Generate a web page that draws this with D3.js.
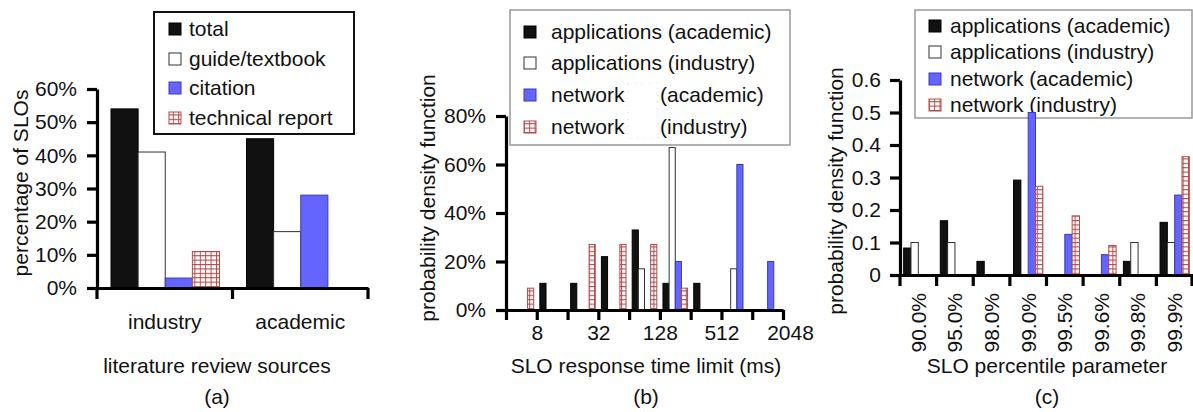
<!doctype html>
<html>
  <head>
    <title>SLO survey</title>
    <style>
      body { margin: 0; background: #fff; }
      svg text { font-family: 'Liberation Sans', Arial, sans-serif; fill: #111; }
    </style>
  </head>
  <body>
    <svg width='1193' height='412'></svg>

  <script src='https://cdnjs.cloudflare.com/ajax/libs/d3/7.8.5/d3.min.js'></script>
  <script>
// (a) literature review sources
var sourcesA = ['industry', 'academic'];
var seriesA = ['total', 'guide/textbook', 'citation', 'technical report'];
var totalA = [0.54, 0.45];
var guideA = [0.41, 0.17];
var citationA = [0.03, 0.28];
var techReportA = [0.11, 0];
var ticksA = [0, 0.1, 0.2, 0.3, 0.4, 0.5, 0.6];

// (b) response time limit, bins start at these powers of two
var binsB = [4, 8, 16, 32, 64, 128, 256, 512, 1024];
var tickValuesB = [4, 8, 16, 32, 64, 128, 256, 512, 1024, 2048];
var tickLabelsB = [8, 32, 128, 512, 2048];
var seriesB = ['applications (academic)', 'applications (industry)', 'network (academic)', 'network (industry)'];
var appAcadB = [0, 0.11, 0.11, 0.22, 0.33, 0.11, 0.11, 0, 0];
var appIndB = [0, 0, 0, 0, 0.17, 0.67, 0, 0.17, 0];
var netAcadB = [0, 0, 0, 0, 0, 0.20, 0, 0.60, 0.20];
var netIndB = [0.09, 0, 0.27, 0.27, 0.27, 0.09, 0, 0, 0];
var ticksB = [0, 0.2, 0.4, 0.6, 0.8];

// (c) percentile parameter
var percentilesC = ['90.0%', '95.0%', '98.0%', '99.0%', '99.5%', '99.6%', '99.8%', '99.9%'];
var seriesC = ['applications (academic)', 'applications (industry)', 'network (academic)', 'network (industry)'];
var appAcadC = [0.083, 0.167, 0.042, 0.292, 0, 0, 0.042, 0.162];
var appIndC = [0.1, 0.1, 0, 0, 0, 0, 0.1, 0.1];
var netAcadC = [0, 0, 0, 0.5, 0.125, 0.0625, 0, 0.246];
var netIndC = [0, 0, 0, 0.273, 0.182, 0.091, 0, 0.364];
var ticksC = [0, 0.1, 0.2, 0.3, 0.4, 0.5, 0.6];

var svg = d3.select('svg');
var FS = 21;

// grid pattern for the "industry"/"technical report" series
var defs = svg.append('defs');
var pat = defs.append('pattern').attr('id', 'grid')
  .attr('patternUnits', 'userSpaceOnUse').attr('width', 5.4).attr('height', 4.4);
pat.append('rect').attr('width', 5.4).attr('height', 4.4).attr('fill', '#fff');
pat.append('path').attr('d', 'M0,0.5H5.4M0.5,0V4.4')
  .attr('stroke', '#b34a4a').attr('stroke-width', 1).attr('fill', 'none');

var styles = [
  {fill: '#111', stroke: '#000'},
  {fill: '#fff', stroke: '#333'},
  {fill: '#6464ff', stroke: '#3a3ab8'},
  {fill: 'url(#grid)', stroke: '#b34a4a'}
];

function styleAxis(g) {
  g.select('.domain').attr('stroke', '#000').attr('stroke-width', 3.2);
  g.selectAll('.tick line').attr('stroke', '#000').attr('stroke-width', 3.2);
  g.selectAll('.tick text').attr('font-size', FS).attr('fill', '#111')
    .attr('font-family', "'Liberation Sans', Arial, sans-serif");
}

function drawBars(g, cats, x, sub, y, values) {
  values.forEach(function(vals, s) {
    g.selectAll(null).data(vals).enter().append('rect')
      .attr('x', function(d, i) { return x(cats[i]) + sub(s); })
      .attr('y', function(d) { return y(d); })
      .attr('width', sub.bandwidth())
      .attr('height', function(d) { return y(0) - y(d); })
      .attr('fill', styles[s].fill)
      .attr('stroke', styles[s].stroke)
      .attr('stroke-width', 1)
      .style('display', function(d) { return d > 0 ? null : 'none'; });
  });
}

function drawLegend(g, labels, box, sw, tx, rows, gapX, border) {
  g.append('rect').attr('x', box[0]).attr('y', box[1])
    .attr('width', box[2] - box[0]).attr('height', box[3] - box[1])
    .attr('fill', '#fff').attr('stroke', border.color).attr('stroke-width', border.width);
  labels.forEach(function(l, i) {
    g.append('rect').attr('x', sw).attr('y', rows[i] - 6).attr('width', 12).attr('height', 12)
      .attr('fill', styles[i].fill).attr('stroke', styles[i].stroke).attr('stroke-width', 1);
    var t = g.append('text').attr('x', tx).attr('y', rows[i]).attr('dy', '0.35em')
      .attr('font-size', FS);
    if (gapX && l.indexOf('network') === 0) {
      var parts = l.split(' ');
      t.text(parts[0]);
      t.append('tspan').attr('x', gapX).text(parts[1]);
    } else {
      t.text(l);
    }
  });
}

function yTitle(x, y, label) {
  svg.append('text').attr('transform', 'translate(' + x + ',' + y + ') rotate(-90)')
    .attr('text-anchor', 'middle').attr('font-size', FS).text(label);
}

function caption(x, label, sub) {
  svg.append('text').attr('x', x).attr('y', 373).attr('text-anchor', 'middle')
    .attr('font-size', FS).text(label);
  svg.append('text').attr('x', x).attr('y', 404).attr('text-anchor', 'middle')
    .attr('font-size', FS).text(sub);
}

// ---------- (a) ----------
var gA = svg.append('g');
var yA = d3.scaleLinear().domain([0, 0.6]).range([288, 89]);
var xA = d3.scaleBand().domain(sourcesA).range([97, 368]);
var subA = d3.scaleBand().domain(d3.range(4)).range([14, xA.bandwidth() - 13]);

drawLegend(gA, seriesA, [154, 12, 354, 134], 169, 189, [29, 59, 88, 118], null,
  {color: '#111', width: 2});
drawBars(gA, sourcesA, xA, subA, yA, [totalA, guideA, citationA, techReportA]);

gA.append('g').attr('transform', 'translate(97,0)')
  .call(d3.axisLeft(yA).tickValues(ticksA).tickFormat(d3.format('.0%'))
    .tickSize(10).tickSizeOuter(0).tickPadding(10))
  .call(styleAxis);
gA.append('g').attr('transform', 'translate(0,288)')
  .call(d3.axisBottom(xA).tickSize(0).tickPadding(26).tickSizeOuter(0))
  .call(styleAxis)
  .call(function(g) { g.selectAll('.tick text').attr('dy', '0.71em'); });
// group boundary ticks
gA.selectAll(null).data(sourcesA.concat(['end'])).enter().append('line')
  .attr('x1', function(d) { return d === 'end' ? xA.range()[1] : xA(d); })
  .attr('x2', function(d) { return d === 'end' ? xA.range()[1] : xA(d); })
  .attr('y1', 288).attr('y2', 299).attr('stroke', '#000').attr('stroke-width', 3.2);

yTitle(28, 183, 'percentage of SLOs');
caption(217, 'literature review sources', '(a)');

// ---------- (b) ----------
var gB = svg.append('g');
var yB = d3.scaleLinear().domain([0, 0.8]).range([310, 116]);
var logB = d3.scaleLog().base(2).domain([4, 2048]).range([506, 783]);
var xB = d3.scaleBand().domain(binsB).range([506, 783]);
var subB = d3.scaleBand().domain(d3.range(4)).range([xB.bandwidth() * 0.1, xB.bandwidth() * 0.9]);

drawLegend(gB, seriesB, [510, 10, 790, 145], 524, 551, [32, 63, 95, 127], 660,
  {color: '#999', width: 1.5});
// blank patch sitting in the legend
gB.append('rect').attr('x', 628).attr('y', 83).attr('width', 30).attr('height', 55)
  .attr('fill', '#fff').attr('stroke', '#c8d8ea').attr('stroke-width', 0.8)
  .attr('stroke-dasharray', '1,6');

drawBars(gB, binsB, xB, subB, yB, [appAcadB, appIndB, netAcadB, netIndB]);

gB.append('g').attr('transform', 'translate(506,0)')
  .call(d3.axisLeft(yB).tickValues(ticksB).tickFormat(d3.format('.0%'))
    .tickSize(10).tickSizeOuter(0).tickPadding(10))
  .call(styleAxis);
gB.append('g').attr('transform', 'translate(0,310)')
  .call(d3.axisBottom(logB).tickValues(tickValuesB)
    .tickFormat(function(d) { return tickLabelsB.indexOf(d) >= 0 ? d : ''; })
    .tickSize(10).tickSizeOuter(0).tickPadding(5))
  .call(styleAxis)
  .call(function(g) {
    g.selectAll('.tick text').filter(function(d) { return d === 2048; }).attr('dx', 7);
  });

yTitle(435, 198, 'probability density function');
caption(646, 'SLO response time limit (ms)', '(b)');

// ---------- (c) ----------
var gC = svg.append('g');
var yC = d3.scaleLinear().domain([0, 0.6]).range([275, 80]);
var xC = d3.scaleBand().domain(percentilesC).range([900, 1193]);
var subC = d3.scaleBand().domain(d3.range(4)).range([xC.bandwidth() * 0.1, xC.bandwidth() * 0.9]);

drawLegend(gC, seriesC, [915, 10, 1192, 118], 929, 950, [26, 52, 79, 105], null,
  {color: '#999', width: 1.5});
drawBars(gC, percentilesC, xC, subC, yC, [appAcadC, appIndC, netAcadC, netIndC]);

gC.append('g').attr('transform', 'translate(900,0)')
  .call(d3.axisLeft(yC).tickValues(ticksC)
    .tickFormat(function(d) { return d === 0 ? '0' : d3.format('.1f')(d); })
    .tickSize(10).tickSizeOuter(0).tickPadding(9))
  .call(styleAxis);
var axC = gC.append('g').attr('transform', 'translate(0,275)')
  .call(d3.axisBottom(xC).tickSize(0).tickSizeOuter(0))
  .call(styleAxis);
axC.selectAll('.tick text')
  .attr('transform', 'translate(0,18) rotate(-90)')
  .attr('x', 0).attr('y', 0).attr('dy', '0.35em')
  .attr('text-anchor', 'end');
gC.selectAll(null).data(percentilesC.concat(['end'])).enter().append('line')
  .attr('x1', function(d) { return d === 'end' ? 1192 : xC(d); })
  .attr('x2', function(d) { return d === 'end' ? 1192 : xC(d); })
  .attr('y1', 275).attr('y2', 286).attr('stroke', '#000').attr('stroke-width', 3.2);

yTitle(843, 191, 'probability density function');
caption(1047, 'SLO percentile parameter', '(c)');
  </script>
  </body>
</html>
